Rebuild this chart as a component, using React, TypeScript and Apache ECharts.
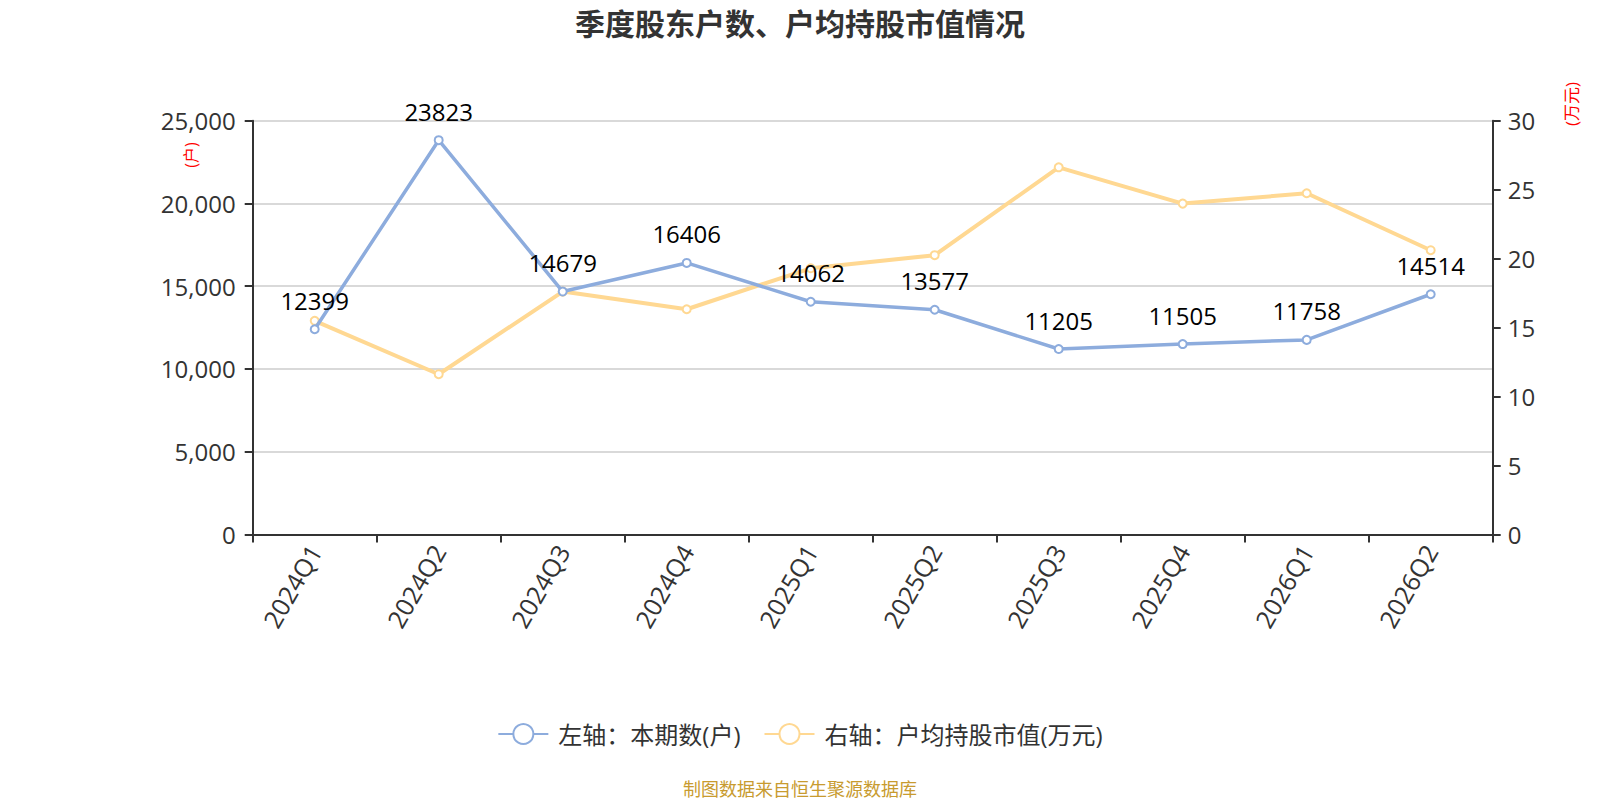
import React, { useEffect, useRef } from "react";
import * as echarts from "echarts";

const categories = ["2024Q1", "2024Q2", "2024Q3", "2024Q4", "2025Q1", "2025Q2", "2025Q3", "2025Q4", "2026Q1", "2026Q2"];
const holders = [12399, 23823, 14679, 16406, 14062, 13577, 11205, 11505, 11758, 14514];
const avgValue = [15.49, 11.62, 17.61, 16.33, 19.3, 20.25, 26.62, 23.99, 24.74, 20.61];
const leftTicks = { min: 0, max: 25000, interval: 5000 };
const rightTicks = { min: 0, max: 30, interval: 5 };

const titleText = "季度股东户数、户均持股市值情况";
const seriesNames = ["左轴：本期数(户)", "右轴：户均持股市值(万元)"];
const leftUnit = "(户)";
const rightUnit = "(万元)";
const sourceText = "制图数据来自恒生聚源数据库";

const FONT = "'Open Sans', 'Noto Sans CJK SC', sans-serif";
const BLUE = "#8DACDD";
const YELLOW = "#FFD892";

export default function App() {
  const ref = useRef<HTMLDivElement>(null);
  useEffect(() => {
    if (!ref.current) return;
    const chart = echarts.init(ref.current, undefined, { renderer: "svg" });
    const axisLine = { show: true, lineStyle: { color: "#333", width: 2 } };
    const axisTick = { show: true, length: 8, lineStyle: { color: "#333", width: 2 } };
    chart.setOption({
      animation: false,
      textStyle: { fontFamily: FONT },
      title: {
        text: titleText,
        left: "center",
        top: 7,
        padding: 0,
        textStyle: { fontSize: 30, fontWeight: "bold", color: "#333", fontFamily: "'Noto Sans CJK SC', sans-serif" },
      },
      grid: { left: 252.7, right: 107.3, top: 120.7, bottom: 265.5, containLabel: false },
      legend: {
        data: seriesNames,
        left: "center",
        top: 717,
        itemWidth: 50,
        itemHeight: 25,
        itemGap: 23,
        textStyle: { fontSize: 24, color: "#333", padding: [0, 0, 0, 5] },
      },
      xAxis: {
        type: "category",
        data: categories,
        boundaryGap: true,
        axisLine,
        axisTick: { ...axisTick, alignWithLabel: false },
        axisLabel: { rotate: 60, fontSize: 25, color: "#333", margin: 12, interval: 0 },
        splitLine: { show: false },
      },
      yAxis: [
        {
          type: "value",
          ...leftTicks,
          position: "left",
          axisLine,
          axisTick,
          axisLabel: {
            fontSize: 24,
            color: "#333",
            margin: 17,
            formatter: (v: number) => v.toLocaleString("en-US"),
          },
          splitLine: { show: true, lineStyle: { color: "#ccc", width: 1.5 } },
        },
        {
          type: "value",
          ...rightTicks,
          position: "right",
          axisLine,
          axisTick,
          axisLabel: { fontSize: 24, color: "#333", margin: 15 },
          splitLine: { show: false },
        },
      ],
      series: [
        {
          name: seriesNames[0],
          type: "line",
          yAxisIndex: 0,
          data: holders,
          symbol: "emptyCircle",
          symbolSize: 8,
          lineStyle: { color: BLUE, width: 3.5 },
          itemStyle: { color: BLUE, borderWidth: 2 },
          label: { show: true, position: "top", distance: 12, fontSize: 24, color: "#000" },
          z: 3,
        },
        {
          name: seriesNames[1],
          type: "line",
          yAxisIndex: 1,
          data: avgValue,
          symbol: "emptyCircle",
          symbolSize: 8,
          lineStyle: { color: YELLOW, width: 4 },
          itemStyle: { color: YELLOW, borderWidth: 2 },
          label: { show: false },
          z: 2,
        },
      ],
      graphic: [
        {
          type: "text",
          x: 191,
          y: 155,
          rotation: Math.PI / 2,
          style: { text: leftUnit, fontSize: 16, fill: "#ff0000", align: "center", verticalAlign: "middle", fontFamily: FONT },
        },
        {
          type: "text",
          x: 1571,
          y: 104,
          rotation: Math.PI / 2,
          style: { text: rightUnit, fontSize: 17, fill: "#ff0000", align: "center", verticalAlign: "middle", fontFamily: FONT },
        },
        {
          type: "text",
          x: 800,
          y: 789,
          style: { text: sourceText, fontSize: 18, fill: "#C89B2F", align: "center", verticalAlign: "middle", fontFamily: FONT },
        },
      ],
    });
    return () => chart.dispose();
  }, []);
  return <div ref={ref} style={{ position: "absolute", left: 0, top: 0, width: 1600, height: 800 }} />;
}
